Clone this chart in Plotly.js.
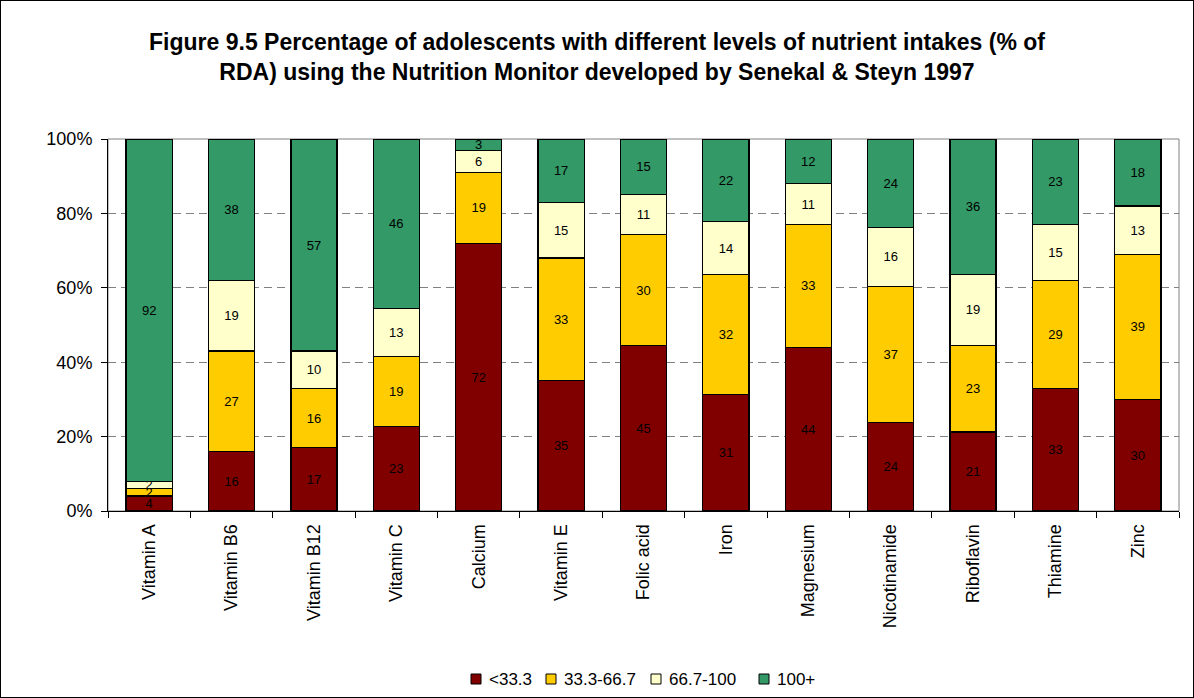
<!DOCTYPE html>
<html><head><meta charset="utf-8">
<script src="https://cdn.plot.ly/plotly-3.0.1.min.js"></script>
<style>
html,body{margin:0;padding:0;background:#fff;}
#chart{width:1192px;height:696px;border:1px solid #000;}
</style></head>
<body><div id="chart"></div>
<script>
const categories = ["Vitamin A","Vitamin B6","Vitamin B12","Vitamin C","Calcium","Vitamin E","Folic acid","Iron","Magnesium","Nicotinamide","Riboflavin","Thiamine","Zinc"];
const seriesNames = ["<33.3","33.3-66.7","66.7-100","100+"];
const below33 = [4,16,17,23,72,35,45,31,44,24,21,33,30];
const from33to67 = [2,27,16,19,19,33,30,32,33,37,23,29,39];
const from67to100 = [2,19,10,13,6,15,11,14,11,16,19,15,13];
const over100 = [92,38,57,46,3,17,15,22,12,24,36,23,18];
const colors = ["#800000","#FFCC00","#FFFFCC","#339966"];
const FONT = 'Liberation Sans, Arial, sans-serif';

const allSeries = [below33, from33to67, from67to100, over100];
const traces = allSeries.map((vals,i)=>({
  type:'bar', x:categories, y:vals, name:seriesNames[i],
  marker:{color:colors[i], line:{color:'#000', width:1.3}},
  text:vals.map(String), textposition:'inside', insidetextanchor:'middle', textangle:0,
  textfont:{family:FONT, size:13, color:'#000'},
  constraintext:'none', cliponaxis:false
}));

// plot area geometry (page px) used to place the custom legend
const plotL = 108, plotR = 1179, plotT = 139, plotB = 511;
const px2x = p => (p - plotL) / (plotR - plotL);
const py2y = p => (plotB - p) / (plotB - plotT);
const legendTextX = [487, 562, 667, 775];
const legendY = 679;

const shapes = [
  {type:'rect', xref:'paper', yref:'paper', x0:0, x1:1, y0:0, y1:1, line:{color:'#808080', width:1}, layer:'below'}
];
const annotations = [];
seriesNames.forEach((nm,i)=>{
  shapes.push({type:'rect', xref:'paper', yref:'paper', xsizemode:'pixel', ysizemode:'pixel',
    xanchor:px2x(legendTextX[i]-16), yanchor:py2y(legendY), x0:0, x1:10, y0:-5, y1:5,
    fillcolor:colors[i], line:{color:'#000', width:1}});
  annotations.push({xref:'paper', yref:'paper', x:px2x(legendTextX[i]), y:py2y(legendY),
    xanchor:'left', yanchor:'middle', showarrow:false, text:nm,
    font:{family:FONT, size:17, color:'#000'}});
});

const layout = {
  width:1192, height:696,
  barmode:'stack', barnorm:'percent', bargap:0.44,
  uniformtext:{mode:'show', minsize:13},
  margin:{l:107, r:14, t:138, b:186},
  paper_bgcolor:'#fff', plot_bgcolor:'#fff',
  font:{family:FONT, color:'#000'},
  title:{text:'<b>Figure 9.5 Percentage of adolescents with different levels of nutrient intakes (% of<br>RDA) using the Nutrition Monitor developed by Senekal & Steyn 1997</b>',
    x:0.5, xref:'container', xanchor:'center', y:0.93, yanchor:'middle',
    font:{family:FONT, size:23, color:'#000'}},
  xaxis:{type:'category', tickangle:-90, tickfont:{size:18}, showline:true, linecolor:'#000', linewidth:1,
    ticks:'outside', tickson:'boundaries', ticklen:6, tickcolor:'#000', showgrid:false, automargin:false,
    ticklabelstandoff:5},
  yaxis:{range:[0,100.01], tickvals:[0,20,40,60,80,100], ticktext:['0%','20%','40%','60%','80%','100%'],
    tickfont:{size:18}, showline:true, linecolor:'#000', linewidth:1,
    ticks:'outside', ticklen:6, tickcolor:'#000', showgrid:true, gridcolor:'#808080', griddash:'8px,5px', gridwidth:1,
    zeroline:false, automargin:false, ticklabelstandoff:5},
  showlegend:false,
  shapes:shapes,
  annotations:annotations
};
Plotly.newPlot('chart', traces, layout, {displayModeBar:false, staticPlot:true});
</script></body></html>
